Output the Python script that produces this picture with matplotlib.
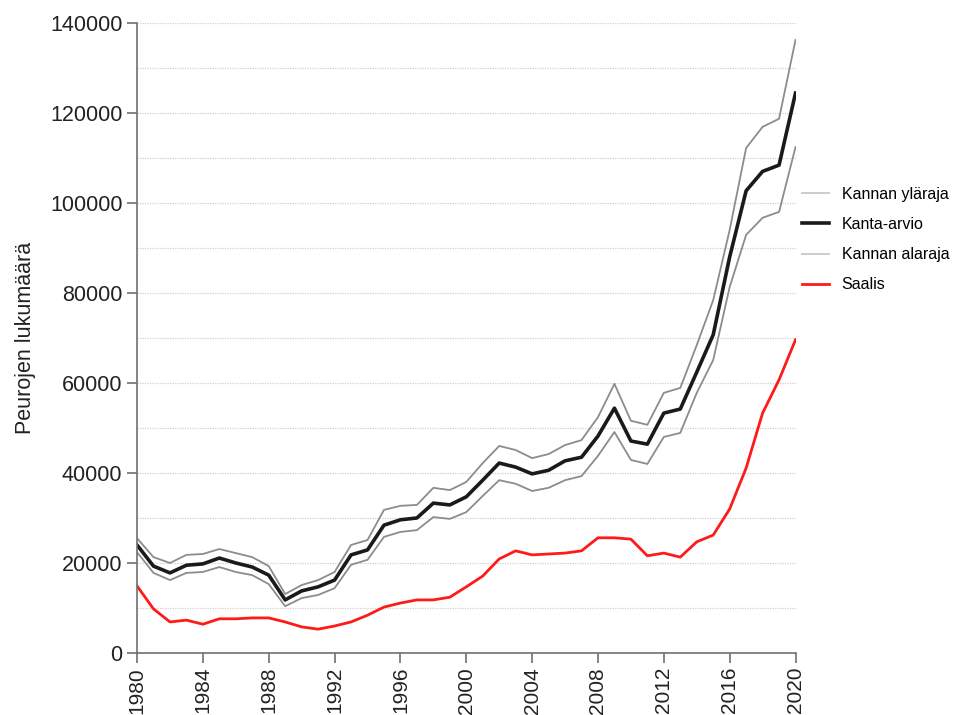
import numpy as np
import matplotlib
matplotlib.use("Agg")
import matplotlib.pyplot as plt

plt.rcParams['font.family'] = ['Liberation Sans', 'DejaVu Sans']

years = list(range(1980, 2021))

# Kannan yläraja
upper = [25500, 21300, 20000, 21800, 22000, 23100, 22200, 21300, 19300, 13100,
         15100, 16200, 18000, 24000, 25100, 31800, 32700, 32900, 36700, 36200,
         38000, 42200, 46000, 45100, 43300, 44200, 46200, 47300, 52400, 59800,
         51600, 50700, 57800, 58900, 68400, 78400, 94000, 112200, 116900, 118700,
         136200]
# Kanta-arvio
estimate = [24000, 19300, 17800, 19500, 19800, 21100, 20000, 19100, 17300, 11800,
            13800, 14700, 16200, 21800, 22900, 28400, 29600, 30000, 33300, 32900,
            34700, 38400, 42200, 41300, 39800, 40600, 42700, 43500, 48200, 54400,
            47100, 46400, 53300, 54200, 62400, 70700, 88000, 102700, 107000, 108400,
            124400]
# Kannan alaraja
lower = [22400, 17800, 16200, 17800, 18000, 19100, 18000, 17300, 15300, 10400,
         12200, 12900, 14400, 19600, 20700, 25800, 26900, 27300, 30200, 29800,
         31300, 34900, 38400, 37600, 36000, 36700, 38400, 39300, 43800, 49100,
         42900, 42000, 48000, 48900, 57800, 65100, 81300, 92900, 96700, 98000,
         112400]
# Saalis
catch = [14900, 9800, 6900, 7300, 6400, 7600, 7600, 7800, 7800, 6900,
         5800, 5300, 6000, 6900, 8400, 10200, 11100, 11800, 11800, 12400,
         14700, 17100, 20900, 22700, 21800, 22000, 22200, 22700, 25600, 25600,
         25300, 21600, 22200, 21300, 24700, 26200, 32000, 41100, 53300, 60700,
         69600]

fig = plt.figure(figsize=(9.55, 7.15), dpi=100)
ax = fig.add_axes([0.1435, 0.0867, 0.6895, 0.8813])

# dotted grid every 10000
for v in range(10000, 140001, 10000):
    ax.axhline(v, color='#d0d0d0', linestyle=(0, (1, 1)), linewidth=0.9, zorder=0)

ax.plot(years, upper, color='#8c8c8c', linewidth=1.3, label='Kannan yläraja')
ax.plot(years, estimate, color='#1a1a1a', linewidth=2.6, label='Kanta-arvio')
ax.plot(years, lower, color='#8c8c8c', linewidth=1.3, label='Kannan alaraja')
ax.plot(years, catch, color='#ff1a1a', linewidth=2.0, label='Saalis')

ax.set_xlim(1980, 2020)
ax.set_ylim(0, 140000)
ax.set_xticks(range(1980, 2021, 4))
ax.set_yticks(range(0, 140001, 20000))
ax.tick_params(axis='x', labelrotation=90, labelsize=15, pad=3)
ax.tick_params(axis='y', labelsize=15.5)
ax.tick_params(direction='out', length=7, width=1.2, color='#707070',
               labelcolor='#222222')

for side in ['top', 'right']:
    ax.spines[side].set_visible(False)
for side in ['left', 'bottom']:
    ax.spines[side].set_color('#707070')
    ax.spines[side].set_linewidth(1.2)

ax.set_ylabel('Peurojen lukumäärä', fontsize=15.5, color='#222222', labelpad=10)

handles, labels = ax.get_legend_handles_labels()
leg = ax.legend(handles, labels, loc='center left', bbox_to_anchor=(0.995, 0.656),
                frameon=False, fontsize=11.5, handlelength=1.7, labelspacing=0.95,
                borderaxespad=0.2, handletextpad=0.8)
leg.get_lines()[0].set_color('#c8c8c8')
leg.get_lines()[2].set_color('#c8c8c8')

fig.savefig('out.png', dpi=100)
